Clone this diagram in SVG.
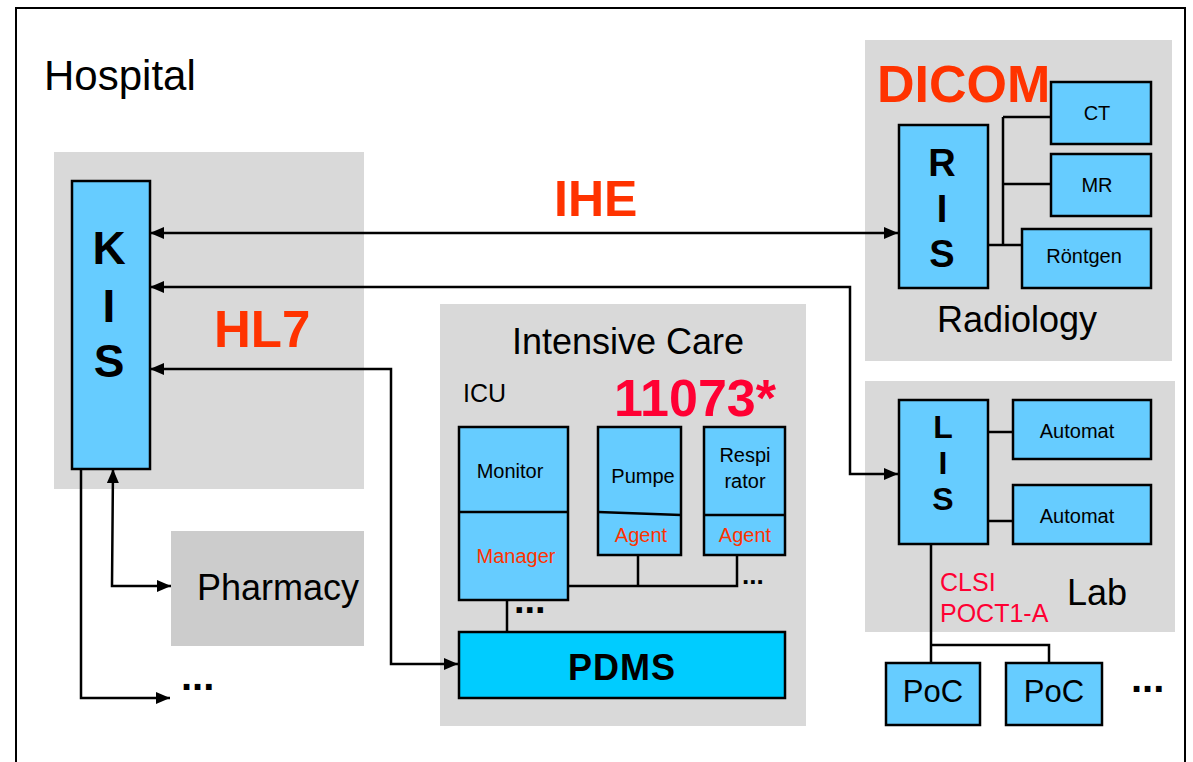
<svg xmlns="http://www.w3.org/2000/svg" width="1193" height="762" viewBox="0 0 1193 762">
  <defs>
    <marker id="arrow" viewBox="0 0 14 12" refX="14" refY="6" markerWidth="14" markerHeight="12" markerUnits="userSpaceOnUse" orient="auto-start-reverse">
      <path d="M0,0 L14,6 L0,12 z" fill="#000"/>
    </marker>
    <style>
      text { font-family: "Liberation Sans", Arial, sans-serif; fill: #000; }
      .panel { fill: #d9d9d9; }
      .box { fill: #66ccff; stroke: #000; stroke-width: 2.5; }
      .bus { fill: none; stroke: #000; stroke-width: 2.5; }
      .link { fill: none; stroke: #000; stroke-width: 2.5; marker-end: url(#arrow); }
      .both { marker-start: url(#arrow); }
      .std { font-weight: bold; fill: #ff3300; }
      .ieee { fill: #ff0033; }
      .big { font-weight: bold; text-anchor: middle; }
      .dev { font-size: 20px; text-anchor: middle; }
      .role { font-size: 20px; fill: #ff3300; text-anchor: middle; }
      .dots { font-weight: bold; }
    </style>
  </defs>

  <rect width="1193" height="762" fill="#fff"/>
  <!-- hospital boundary -->
  <rect x="16" y="8" width="1169" height="800" fill="none" stroke="#000" stroke-width="2"/>
  <text x="44" y="90" font-size="42">Hospital</text>

  <!-- department panels -->
  <rect class="panel" x="54" y="152" width="310" height="337"/>
  <rect class="panel" x="865" y="40" width="307" height="321"/>
  <rect class="panel" x="865" y="381" width="310" height="251"/>
  <rect class="panel" x="440" y="304" width="366" height="422"/>

  <g id="pharmacy">
    <rect x="171" y="531" width="193" height="115" fill="#cccccc"/>
    <text x="197" y="600" font-size="36">Pharmacy</text>
  </g>

  <!-- connectors -->
  <g id="connectors">
    <path class="link both" d="M150,233 H898"/>
    <path class="link both" d="M150,287 H850 V474 H898"/>
    <path class="link both" d="M150,369 H391 V664 H458"/>
    <path class="link both" d="M113,469 L112,586 H171"/>
    <path class="link" d="M81,469 V698 H170"/>
    <!-- radiology bus -->
    <path class="bus" d="M1003,117 V245 M1003,117 H1051 M1003,184 H1051 M988,245 H1022"/>
    <!-- lab bus -->
    <path class="bus" d="M988,432 H1013 M988,521 H1013 M931,544 V663 M931,645 H1049 V663"/>
    <!-- ICU bus -->
    <path class="bus" d="M568,586 H737 V555 M638,555 V586 M507,600 V632"/>
  </g>

  <!-- protocol labels -->
  <text class="std" x="554" y="216" font-size="50">IHE</text>
  <text class="std" x="214" y="347" font-size="51">HL7</text>
  <text class="std" x="877" y="102" font-size="52">DICOM</text>

  <g id="kis">
    <rect class="box" x="72" y="181" width="78" height="288"/>
    <text class="big" font-size="46"><tspan x="109" y="264">K</tspan><tspan x="109" y="322">I</tspan><tspan x="109" y="377">S</tspan></text>
  </g>
  <text class="dots" x="181" y="690" font-size="40">...</text>

  <!-- Radiology -->
  <g id="ris">
    <rect class="box" x="899" y="125" width="89" height="163"/>
    <text class="big" font-size="38"><tspan x="942" y="176">R</tspan><tspan x="942" y="222">I</tspan><tspan x="942" y="267">S</tspan></text>
  </g>
  <g id="ct">
    <rect class="box" x="1051" y="82" width="100" height="62"/>
    <text class="dev" x="1097" y="120" font-size="19">CT</text>
  </g>
  <g id="mr">
    <rect class="box" x="1051" y="154" width="100" height="62"/>
    <text class="dev" x="1097" y="192">MR</text>
  </g>
  <g id="roentgen">
    <rect class="box" x="1022" y="229" width="129" height="59"/>
    <text class="dev" x="1084" y="263">Röntgen</text>
  </g>
  <text x="937" y="332" font-size="36">Radiology</text>

  <!-- Lab -->
  <g id="lis">
    <rect class="box" x="899" y="400" width="89" height="144"/>
    <text class="big" font-size="32"><tspan x="943" y="438">L</tspan><tspan x="943" y="474">I</tspan><tspan x="943" y="510">S</tspan></text>
  </g>
  <g id="automat-1">
    <rect class="box" x="1013" y="400" width="138" height="59"/>
    <text class="dev" x="1077" y="438">Automat</text>
  </g>
  <g id="automat-2">
    <rect class="box" x="1013" y="485" width="138" height="59"/>
    <text class="dev" x="1077" y="523">Automat</text>
  </g>
  <text class="ieee" font-size="25"><tspan x="940" y="591">CLSI</tspan><tspan x="940" y="622">POCT1-A</tspan></text>
  <text x="1067" y="605" font-size="36">Lab</text>
  <g id="poc-1">
    <rect class="box" x="886" y="663" width="94" height="62"/>
    <text x="933" y="702" font-size="31" text-anchor="middle">PoC</text>
  </g>
  <g id="poc-2">
    <rect class="box" x="1006" y="663" width="96" height="62"/>
    <text x="1054" y="702" font-size="31" text-anchor="middle">PoC</text>
  </g>
  <text class="dots" x="1131" y="692" font-size="40">...</text>

  <!-- Intensive Care -->
  <text x="512" y="354" font-size="36">Intensive Care</text>
  <text x="463" y="402" font-size="25">ICU</text>
  <text class="ieee" x="614" y="416" font-size="52" font-weight="bold">11073*</text>

  <g id="monitor">
    <rect class="box" x="459" y="427" width="109" height="173"/>
    <line x1="459" y1="512" x2="568" y2="512" stroke="#000" stroke-width="2.5"/>
    <text class="dev" x="510" y="478">Monitor</text>
    <text class="role" x="516" y="563">Manager</text>
  </g>
  <g id="pumpe">
    <rect class="box" x="598" y="427" width="83" height="128"/>
    <line x1="598" y1="512" x2="681" y2="515" stroke="#000" stroke-width="2.5"/>
    <text class="dev" x="643" y="483">Pumpe</text>
    <text class="role" x="641" y="542">Agent</text>
  </g>
  <g id="respirator">
    <rect class="box" x="704" y="427" width="81" height="128"/>
    <line x1="704" y1="515" x2="785" y2="515" stroke="#000" stroke-width="2.5"/>
    <text class="dev"><tspan x="745" y="462">Respi</tspan><tspan x="745" y="488">rator</tspan></text>
    <text class="role" x="745" y="542">Agent</text>
  </g>
  <text class="dots" x="742" y="584" font-size="26">...</text>
  <text class="dots" x="514" y="613" font-size="38">...</text>

  <g id="pdms">
    <rect x="459" y="632" width="326" height="66" fill="#00ccff" stroke="#000" stroke-width="2.5"/>
    <text class="big" x="622" y="680" font-size="36" letter-spacing="1">PDMS</text>
  </g>
</svg>
